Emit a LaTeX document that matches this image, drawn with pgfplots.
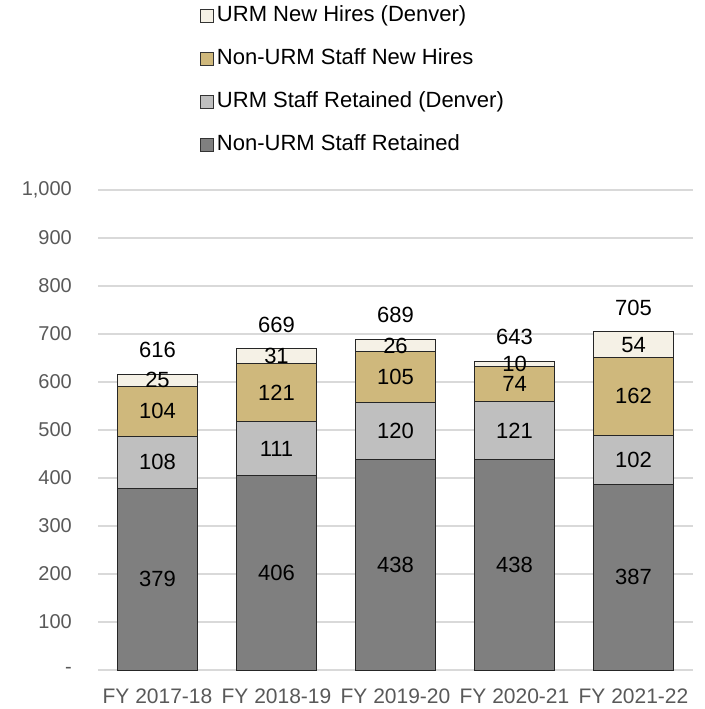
\documentclass[border=0pt]{standalone}
\usepackage{pgfplots}
\pgfplotsset{compat=1.18}
\usepackage{fontspec}
\setmainfont{Liberation Sans}

\definecolor{cdark}{HTML}{7F7F7F}
\definecolor{clight}{HTML}{BFBFBF}
\definecolor{ctan}{HTML}{CFB87C}
\definecolor{ccream}{HTML}{F5F1E6}
\definecolor{cgrid}{HTML}{D9D9D9}
\definecolor{ctick}{HTML}{595959}

\pgfplotsset{
  legsq/.style={legend image code/.code={\draw[##1, draw=black!80, line width=0.8bp] (0bp,-6.5bp) rectangle (13bp,6.5bp);}},
  segment/.style={draw=black!85, line width=0.8bp, legsq,
    nodes near coords, point meta=rawy,
    every node near coord/.style={anchor=center, font=\fontsize{22bp}{26bp}\selectfont, text=black}},
  base/.style={
    at={(98bp,39bp)}, anchor=south west,
    width=595bp, height=480bp, scale only axis,
    xmin=-0.5, xmax=4.5, ymin=0, ymax=1000,
    /pgf/number format/assume math mode=true,
    clip=false,
  },
}

\begin{document}
\begin{tikzpicture}
\begin{axis}[
    base,
    ybar stacked, bar width=80bp,
    xtick={0,1,2,3,4},
    xticklabels={FY 2017-18, FY 2018-19, FY 2019-20, FY 2020-21, FY 2021-22},
    ytick={0,100,...,1000},
    yticklabels={-,100,200,300,400,500,600,700,800,900,{1,000}},
    major tick length=0pt,
    axis line style={draw=none},
    ymajorgrids, grid style={cgrid, line width=1.2bp},
    xticklabel style={inner sep=0pt, yshift=-19bp, text=ctick, font=\fontsize{21bp}{25bp}\selectfont},
    yticklabel style={inner sep=0pt, xshift=-26bp, text=ctick, font=\fontsize{20bp}{24bp}\selectfont},
    reverse legend,
    legend cell align=left,
    legend style={at={(0.1714,1.385)}, anchor=north west, draw=none, fill=none,
      inner sep=0pt, row sep=22bp, column sep=3bp,
      font=\fontsize{22bp}{26bp}\selectfont,
      nodes={inner sep=0pt, text height=16bp, text depth=5bp}},
]
\addplot[segment, fill=cdark] coordinates {(0,379) (1,406) (2,438) (3,438) (4,387)};
\addlegendentry{Non-URM Staff Retained}
\addplot[segment, fill=clight] coordinates {(0,108) (1,111) (2,120) (3,121) (4,102)};
\addlegendentry{URM Staff Retained (Denver)}
\addplot[segment, fill=ctan] coordinates {(0,104) (1,121) (2,105) (3,74) (4,162)};
\addlegendentry{Non-URM Staff New Hires}
\addplot[segment, fill=ccream] coordinates {(0,25) (1,31) (2,26) (3,10) (4,54)};
\addlegendentry{URM New Hires (Denver)}
\end{axis}
% totals above the bars, same frame
\begin{axis}[base, hide axis]
\addplot[draw=none, mark=none, nodes near coords, point meta=explicit,
  nodes near coords style={anchor=center, yshift=24bp, font=\fontsize{22bp}{26bp}\selectfont, text=black}]
  coordinates {(0,616) [616] (1,669) [669] (2,689) [689] (3,643) [643] (4,705) [705]};
\end{axis}
\path (0,0) rectangle (705bp,709bp);
\end{tikzpicture}
\end{document}
